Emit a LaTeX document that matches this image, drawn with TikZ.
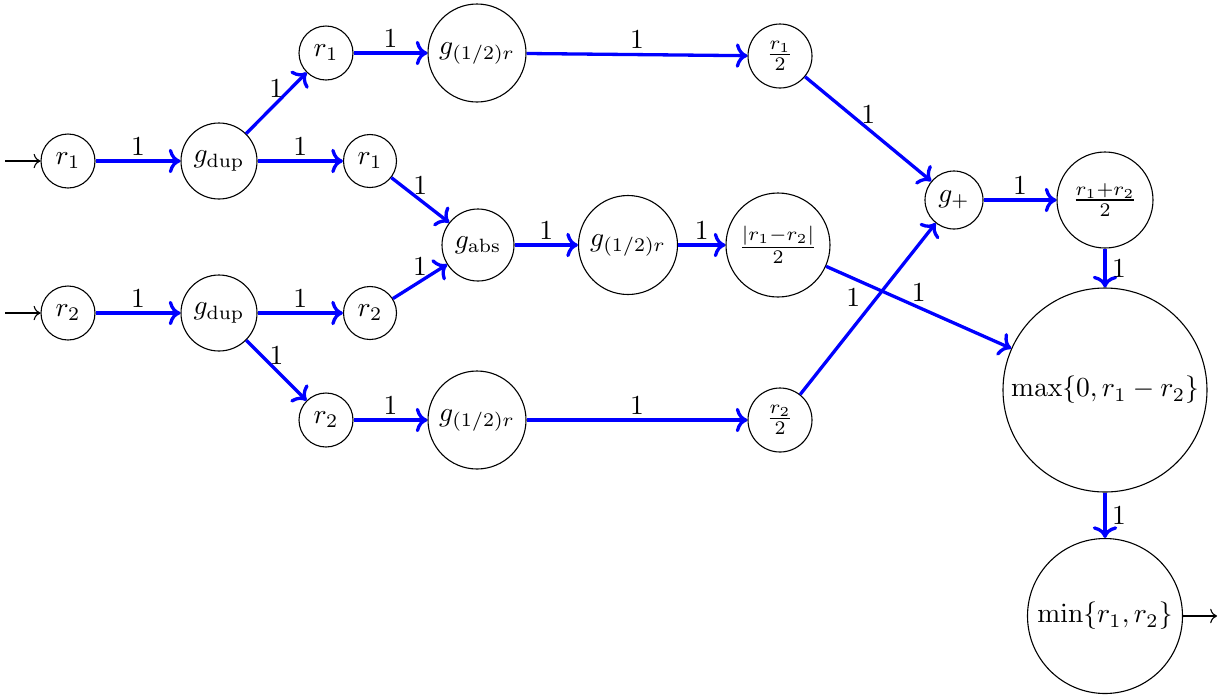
\documentclass[tikz,border=0pt]{standalone}
\usetikzlibrary{arrows.meta}
\begin{document}
\begin{tikzpicture}[x=0.3636pt,y=-0.3636pt,
  nd/.style={circle,draw,inner sep=0pt,minimum size=#1*0.3636pt},
  wt/.style={draw=blue,very thick,->},
  lab/.style={midway,above,inner sep=1.5pt},
  labr/.style={midway,right,inner sep=2pt}]
\useasboundingbox (0,0) rectangle (1225,694);
\node[nd=54] (ra) at (68,161) {$r_1$};
\node[nd=76] (d1) at (219,161) {$g_{\mathrm{dup}}$};
\node[nd=54] (rb) at (326,53) {$r_1$};
\node[nd=98] (h1) at (477,53) {$g_{(1/2)r}$};
\node[nd=64] (q1) at (780,56) {$\frac{r_1}{2}$};
\node[nd=53] (rc) at (370,161) {$r_1$};
\node[nd=72] (ab) at (478,245) {$g_{\mathrm{abs}}$};
\node[nd=99] (h2) at (628,245) {$g_{(1/2)r}$};
\node[nd=104] (q2) at (778,245) {$\frac{|r_1-r_2|}{2}$};
\node[nd=58] (gp) at (954,200) {$g_{+}$};
\node[nd=96] (sm) at (1105,200) {$\frac{r_1+r_2}{2}$};
\node[nd=204] (mx) at (1105,390) {$\max\{0,r_1-r_2\}$};
\node[nd=155] (mn) at (1105,616) {$\min\{r_1,r_2\}$};
\node[nd=54] (sa) at (68,313) {$r_2$};
\node[nd=76] (d2) at (219,313) {$g_{\mathrm{dup}}$};
\node[nd=53] (sc) at (370,313) {$r_2$};
\node[nd=54] (sb) at (326,420) {$r_2$};
\node[nd=98] (h3) at (477,420) {$g_{(1/2)r}$};
\node[nd=64] (q3) at (780,420) {$\frac{r_2}{2}$};
\coordinate (in1) at (5,161);
\coordinate (in2) at (5,313);
\coordinate (out) at (1217,616);
\draw[->] (in1) -- (ra);
\draw[->] (in2) -- (sa);
\draw[->] (mn) -- (out);
\draw[wt] (ra) -- node[lab]{1} (d1);
\draw[wt] (d1) -- node[lab]{1} (rb);
\draw[wt] (d1) -- node[lab]{1} (rc);
\draw[wt] (rb) -- node[lab]{1} (h1);
\draw[wt] (h1) -- node[lab]{1} (q1);
\draw[wt] (q1) -- node[lab]{1} (gp);
\draw[wt] (rc) -- node[lab]{1} (ab);
\draw[wt] (sc) -- node[lab]{1} (ab);
\draw[wt] (ab) -- node[lab]{1} (h2);
\draw[wt] (h2) -- node[lab]{1} (q2);
\draw[wt] (q2) -- node[lab]{1} (mx);
\draw[wt] (gp) -- node[lab]{1} (sm);
\draw[wt] (sm) -- node[labr]{1} (mx);
\draw[wt] (mx) -- node[labr]{1} (mn);
\draw[wt] (sa) -- node[lab]{1} (d2);
\draw[wt] (d2) -- node[lab]{1} (sc);
\draw[wt] (d2) -- node[lab]{1} (sb);
\draw[wt] (sb) -- node[lab]{1} (h3);
\draw[wt] (h3) -- node[lab]{1} (q3);
\draw[wt] (q3) -- node[lab,pos=0.48,xshift=-4.4pt]{1} (gp);
\end{tikzpicture}
\end{document}
